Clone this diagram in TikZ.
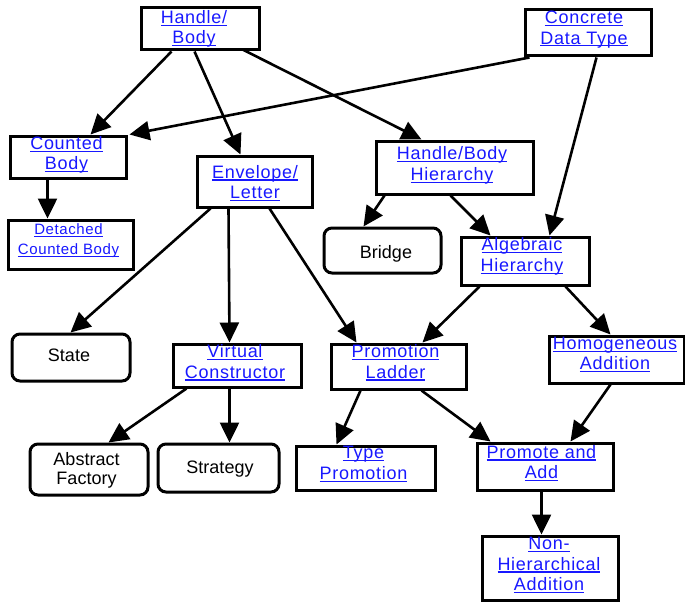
\documentclass[tikz,border=0pt]{standalone}
\usepackage{fontspec}
\setmainfont{Liberation Sans}
\newfontfamily\linkfont[LetterSpace=4]{Liberation Sans}
\usetikzlibrary{arrows.meta}
\definecolor{linkblue}{RGB}{24,24,255}
% underlined link text: a rule under the box, without changing its depth
\newsavebox{\lnkbox}
\newcommand{\lnk}[1]{{\linkfont\color{linkblue}\sbox{\lnkbox}{#1}%
  \rlap{\smash{\rule[-2.4pt]{\wd\lnkbox}{1.1pt}}}\usebox{\lnkbox}}}

\begin{document}
\begin{tikzpicture}[x=1pt,y=-1pt,
  linkbox/.style={draw, line width=3pt, fill=white, rectangle, inner sep=0pt},
  plainbox/.style={draw, line width=3pt, fill=white, rectangle, rounded corners=8pt, inner sep=0pt},
  boxtext/.style={font=\fontsize{18}{20.5}\selectfont, align=center, inner sep=0pt},
  smalltext/.style={font=\fontsize{15}{20}\selectfont, align=center, inner sep=0pt},
  conn/.style={line width=2.6pt, -{Triangle[length=20pt,width=19pt]}}]

\fill[white] (0,0) rectangle (685,602);
\useasboundingbox (0,0) rectangle (685,602);

% boxes
\node[linkbox, minimum width=118pt, minimum height=42pt] (hb)  at (200,29)    {};
\node[linkbox, minimum width=126pt, minimum height=46pt] (cdt) at (588,33)    {};
\node[linkbox, minimum width=116pt, minimum height=42pt] (cb)  at (68,157)    {};
\node[linkbox, minimum width=125pt, minimum height=49pt] (dcb) at (70.5,244.5){};
\node[linkbox, minimum width=115pt, minimum height=51pt] (el)  at (254.5,181.5){};
\node[linkbox, minimum width=157pt, minimum height=53pt] (hbh) at (454.5,167.5){};
\node[plainbox,minimum width=117pt, minimum height=45pt] (br)  at (382.5,250.5){};
\node[linkbox, minimum width=128pt, minimum height=48pt] (ah)  at (525,261)   {};
\node[plainbox,minimum width=118pt, minimum height=47pt] (st)  at (71,357.5)  {};
\node[linkbox, minimum width=128pt, minimum height=43pt] (vc)  at (237,365.5) {};
\node[linkbox, minimum width=135pt, minimum height=45pt] (pl)  at (398.5,366.5){};
\node[linkbox, minimum width=135pt, minimum height=47pt] (ha)  at (616.5,359.5){};
\node[plainbox,minimum width=118pt, minimum height=51pt] (af)  at (89,469.5)  {};
\node[plainbox,minimum width=121pt, minimum height=48pt] (sg)  at (218.5,468) {};
\node[linkbox, minimum width=139pt, minimum height=44pt] (tp)  at (365.5,468) {};
\node[linkbox, minimum width=136pt, minimum height=47pt] (pa)  at (545,466.5) {};
\node[linkbox, minimum width=136pt, minimum height=64pt] (nha) at (550,568)   {};

% texts
\node[boxtext] (hb-t)  at (194,29)    {\lnk{Handle/}\\\lnk{Body}};
\node[boxtext] (cdt-t) at (584,29.4)  {\lnk{Concrete}\\\lnk{Data Type}};
\node[boxtext] (cb-t)  at (66.5,155)  {\lnk{Counted}\\\lnk{Body}};
\node[smalltext] (dcb-t) at (68.5,240.6) {\lnk{Detached}\\\lnk{Counted Body}};
\node[boxtext] (el-t)  at (255,182)   {\lnk{Envelope/}\\\lnk{Letter}};
\node[boxtext] (hbh-t) at (452,165.4) {\lnk{Handle/Body}\\\lnk{Hierarchy}};
\node[boxtext] (br-t)  at (386,253.4) {Bridge};
\node[boxtext] (ah-t)  at (522,256.4) {\lnk{Algebraic}\\\lnk{Hierarchy}};
\node[boxtext] (st-t)  at (69,355)    {State};
\node[boxtext] (vc-t)  at (235,361.5) {\lnk{Virtual}\\\lnk{Constructor}};
\node[boxtext] (pl-t)  at (395.5,361.5){\lnk{Promotion}\\\lnk{Ladder}};
\node[boxtext] (ha-t)  at (615,353.5) {\lnk{Homogeneous}\\\lnk{Addition}};
\node[boxtext,font=\fontsize{18}{19}\selectfont] (af-t) at (86.5,470.7) {Abstract\\Factory};
\node[boxtext] (sg-t)  at (220,469)   {Strategy};
\node[boxtext] (tp-t)  at (363.5,463) {\lnk{Type}\\\lnk{Promotion}};
\node[boxtext] (pa-t)  at (541.5,462) {\lnk{Promote and}\\\lnk{Add}};
\node[boxtext] (nha-t) at (549,564)   {\lnk{Non-}\\\lnk{Hierarchical}\\\lnk{Addition}};

% connectors
\draw[conn] ([xshift=32pt]hb.south west)  -- ([xshift=82pt]cb.north west);
\draw[conn] ([xshift=55pt]hb.south west)  -- ([xshift=45pt]el.north west);
\draw[conn] ([xshift=-18pt,yshift=2pt]hb.south east) -- ([xshift=47pt]hbh.north west);
\draw[conn] ([xshift=6pt]cdt.south west)  -- ([xshift=2pt]cb.north east);
\draw[conn] ([xshift=73pt]cdt.south west) -- ([xshift=90pt]ah.north west);
\draw[conn] ([xshift=39pt]cb.south west)  -- ([xshift=41pt]dcb.north west);
\draw[conn] ([xshift=15pt]el.south west)  -- ([xshift=60pt]st.north west);
\draw[conn] ([xshift=33pt]el.south west)  -- ([xshift=58pt]vc.north west);
\draw[conn] ([xshift=74pt]el.south west)  -- ([xshift=27pt]pl.north west);
\draw[conn] ([xshift=10pt]hbh.south west) -- ([xshift=41pt]br.north west);
\draw[conn] ([xshift=76pt]hbh.south west) -- ([xshift=31pt]ah.north west);
\draw[conn] ([xshift=20pt]ah.south west)  -- ([xshift=93pt]pl.north west);
\draw[conn] ([xshift=106pt]ah.south west) -- ([xshift=63pt]ha.north west);
\draw[conn] ([xshift=15pt]vc.south west)  -- ([xshift=80pt]af.north west);
\draw[conn] ([xshift=58pt]vc.south west)  -- ([xshift=73pt]sg.north west);
\draw[conn] ([xshift=31pt]pl.south west)  -- ([xshift=42pt]tp.north west);
\draw[conn] ([xshift=92pt]pl.south west)  -- ([xshift=15pt]pa.north west);
\draw[conn] ([xshift=63pt]ha.south west)  -- ([xshift=95pt]pa.north west);
\draw[conn] ([xshift=66pt]pa.south west)  -- ([xshift=61pt]nha.north west);
\end{tikzpicture}
\end{document}
